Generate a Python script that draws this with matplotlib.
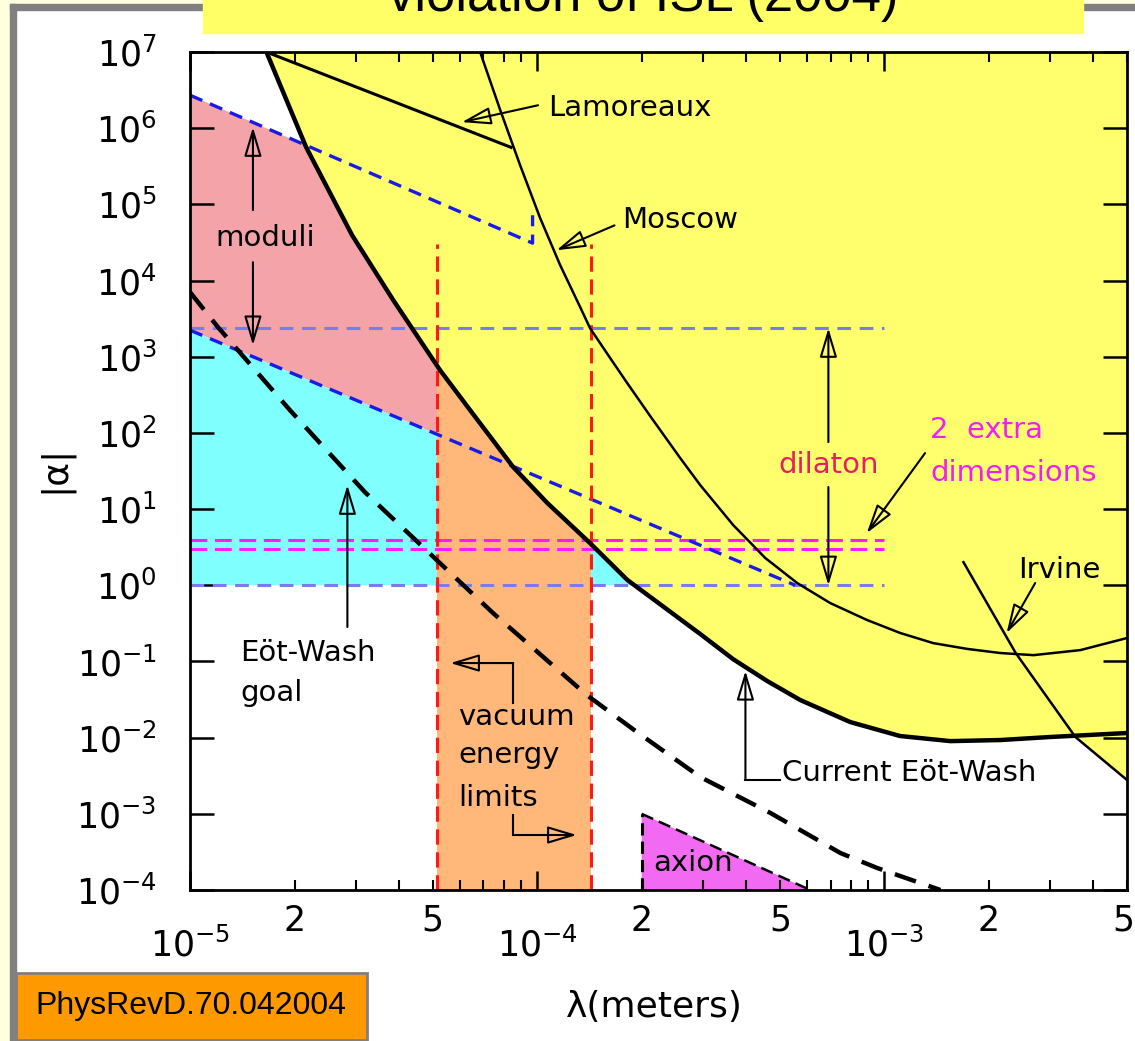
import numpy as np
import matplotlib.pyplot as plt
from matplotlib.patches import Rectangle
from matplotlib.ticker import FixedLocator, FuncFormatter, NullLocator

plt.rcParams['font.family'] = 'DejaVu Sans'
plt.rcParams['mathtext.fontset'] = 'dejavusans'

# current Eot-Wash limit (thick solid)
ew_lam = [1.66e-5, 2.16e-5, 2.93e-5, 3.85e-5, 5.25e-5, 6.41e-5, 8.53e-5, 1.07e-4, 1.42e-4,
          1.82e-4, 2.12e-4, 2.95e-4, 3.67e-4, 4.6e-4, 5.73e-4, 7.98e-4, 1.11e-3, 1.55e-3,
          2.16e-3, 3.01e-3, 5.0e-3]
ew_alpha = [1e7, 5.64e5, 3.94e4, 5.53e3, 667, 199, 35.6, 12.0, 3.58,
            1.17, 0.70, 0.229, 0.107, 0.0553, 0.0311, 0.016, 0.0105, 0.0090,
            0.0093, 0.0102, 0.0115]

# Moscow
mos_lam = [6.85e-5, 7.83e-5, 8.93e-5, 1.02e-4, 1.165e-4, 1.33e-4, 1.42e-4, 1.623e-4, 1.817e-4,
           2.117e-4, 2.583e-4, 2.95e-4, 3.67e-4, 4.54e-4, 5.61e-4, 6.99e-4, 8.93e-4, 1.112e-3,
           1.384e-3, 1.735e-3, 2.16e-3, 2.69e-3, 3.67e-3, 5.0e-3]
mos_alpha = [1e7, 1.72e6, 3.27e5, 6.6e4, 1.59e4, 4.48e3, 2.37e3, 960, 451,
             166, 46.7, 20.6, 6.17, 2.28, 1.07, 0.583, 0.349, 0.236,
             0.174, 0.146, 0.129, 0.121, 0.141, 0.203]

# Lamoreaux
lam_lam = [1.66e-5, 8.41e-5]
lam_alpha = [1e7, 5.6e5]

# Irvine
irv_lam = [1.69e-3, 2.39e-3, 3.55e-3, 5.0e-3]
irv_alpha = [2.01, 0.129, 0.0102, 2.78e-3]

# Eot-Wash goal (thick dashed)
goal_lam = [1e-5, 1.204e-5, 1.94e-5, 3.19e-5, 5.25e-5, 7.47e-5, 1.39e-4, 1.94e-4,
            2.95e-4, 4.69e-4, 7.47e-4, 9.55e-4, 1.45e-3]
goal_alpha = [7.05e3, 2.44e3, 199, 16.7, 1.95, 0.43, 0.0362, 0.0118,
              3.04e-3, 1.03e-3, 3.06e-4, 1.94e-4, 1e-4]

# moduli band edges (blue dashed)
mod_up_lam = [1e-5, 9.7e-5, 9.7e-5]
mod_up_alpha = [2.71e6, 3.1e4, 7.2e4]
mod_lo_lam = [1e-5, 5.54e-4]
mod_lo_alpha = [2.23e3, 1.0]

# dilaton range and 2 extra dimensions
dil_alpha = [2.37e3, 1.0]
xdim_alpha = [3.9, 3.0]
hline_lam = [1e-5, 1e-3]

# vacuum energy window
vac_lam = [5.15e-5, 1.43e-4]
vac_top = 3e4

# axion
ax_lam = [2.0e-4, 2.0e-4, 6.12e-4]
ax_alpha = [1e-4, 1e-3, 1e-4]

W, H = 1135, 1041
fig = plt.figure(figsize=(W / 100, H / 100), dpi=100)

# slide frame
fig.add_artist(Rectangle((0, 0), 10 / W, 1, transform=fig.transFigure, color='#FFFFE0', zorder=0))
fig.add_artist(Rectangle((0, 1 - 4 / H), 1, 4 / H, transform=fig.transFigure, color='#FFFFE0', zorder=0))
fig.add_artist(Rectangle((10 / W, 0), 6 / W, 1 - 4 / H, transform=fig.transFigure, color='#808080', zorder=0))
fig.add_artist(Rectangle((10 / W, 1 - 10 / H), 1 - 10 / W, 6 / H, transform=fig.transFigure, color='#808080', zorder=0))
fig.add_artist(Rectangle((203 / W, 1 - 33 / H), 880 / W, 33 / H, transform=fig.transFigure, color='#FFFF66', zorder=1))
fig.text(643 / W, 1 - 11 / H, 'violation of ISL (2004)', ha='center', va='baseline',
         fontsize=38, family='Liberation Sans', zorder=2)
fig.add_artist(Rectangle((16 / W, 1 - 1040 / H), 351 / W, 67 / H, transform=fig.transFigure,
                         fc='#FF9900', ec='#808080', lw=2, zorder=1))
fig.text(191 / W, 1 - 1006 / H, 'PhysRevD.70.042004', ha='center', va='center',
         fontsize=23, family='Liberation Sans', zorder=2)

ax = fig.add_axes([190 / W, 1 - 890 / H, 937 / W, 838 / H])
ax.set_xscale('log')
ax.set_yscale('log')
ax.set_xlim(1e-5, 5e-3)
ax.set_ylim(1e-4, 1e7)

# shaded regions, back to front
ax.fill(mod_up_lam[:2] + mod_lo_lam[::-1], mod_up_alpha[:2] + mod_lo_alpha[::-1],
        color='#F4A4A8', lw=0, zorder=1)
ax.fill(mod_lo_lam + [mod_lo_lam[0]], mod_lo_alpha + [dil_alpha[1]],
        color='#80FFFF', lw=0, zorder=1)
ax.fill_between(vac_lam, 1e-4, 1e7, color='#FFB87A', lw=0, zorder=1)
ax.fill_between(ew_lam, ew_alpha, 1e7, color='#FFFF6E', lw=0, zorder=1)
ax.fill(irv_lam + [irv_lam[-1]], irv_alpha + [irv_alpha[0]], color='#FFFF6E', lw=0, zorder=1)
ax.fill(ax_lam, ax_alpha, color='#F26AF2', lw=0, zorder=1)

# dashed reference lines
for a in dil_alpha:
    ax.plot(hline_lam, [a, a], color='#7B7BEB', lw=2.2, dashes=(4.5, 2.8), zorder=3)
for a in xdim_alpha:
    ax.plot(hline_lam, [a, a], color='#FF1AFF', lw=2.2, dashes=(5.5, 2.5), zorder=3)
ax.plot(mod_up_lam, mod_up_alpha, color='#1A1AE6', lw=2.4, dashes=(4, 2.5), zorder=3)
ax.plot(mod_lo_lam, mod_lo_alpha, color='#1A1AE6', lw=2.4, dashes=(4, 2.5), zorder=3)
for x in vac_lam:
    ax.plot([x, x], [1e-4, vac_top], color='#FF1A1A', lw=2.2, dashes=(5, 2.5), zorder=3)
ax.plot(ax_lam[:2], ax_alpha[:2], color='k', lw=2.2, dashes=(4, 2), zorder=3)
ax.plot(ax_lam[1:], ax_alpha[1:], color='k', lw=1.8, dashes=(5, 2.5), zorder=3)

# experimental limits
ax.plot(ew_lam, ew_alpha, color='k', lw=3.2, zorder=4)
ax.plot(mos_lam, mos_alpha, color='k', lw=1.8, zorder=4)
ax.plot(lam_lam, lam_alpha, color='k', lw=2.2, zorder=4)
ax.plot(irv_lam, irv_alpha, color='k', lw=1.8, zorder=4)
ax.plot(goal_lam, goal_alpha, color='k', lw=3.2, dashes=(5, 3), zorder=4)

# labels and arrows
fs = 21
head = dict(arrowstyle='-|>,head_length=0.6,head_width=0.18', mutation_scale=30,
            fc='none', ec='k', lw=1.5, shrinkA=0, shrinkB=0)


def arrow(tail, tip):
    ax.annotate('', xy=tip, xytext=tail, arrowprops=head, zorder=6)


ax.text(1.076e-4, 1.83e6, 'Lamoreaux', fontsize=fs, va='center', zorder=6)
arrow((1.006e-4, 2.0e6), (6.07e-5, 1.2e6))
ax.text(1.758e-4, 6.2e4, 'Moscow', fontsize=fs, va='center', zorder=6)
arrow((1.67e-4, 5.3e4), (1.137e-4, 2.5e4))

ax.text(1.645e-5, 3.6e4, 'moduli', fontsize=fs, ha='center', va='center', zorder=6)
arrow((1.518e-5, 8.4e4), (1.518e-5, 1.03e6))
arrow((1.518e-5, 1.74e4), (1.518e-5, 1.42e3))

ax.text(6.9e-4, 37.8, 'dilaton', fontsize=fs, ha='center', va='center', color='#E6205F', zorder=6)
arrow((6.9e-4, 75.7), (6.9e-4, dil_alpha[0]))
arrow((6.9e-4, 19.5), (6.9e-4, dil_alpha[1]))

ax.text(1.357e-3, 109, '2  extra', fontsize=fs, va='center', color='#F01EF0', zorder=6)
ax.text(1.357e-3, 29.6, 'dimensions', fontsize=fs, va='center', color='#F01EF0', zorder=6)
arrow((1.31e-3, 54.3), (8.9e-4, 4.84))

ax.text(2.43e-3, 1.58, 'Irvine', fontsize=fs, va='center', zorder=6)
arrow((2.72e-3, 1.07), (2.25e-3, 0.236))

ax.text(1.394e-5, 0.129, 'Eöt-Wash', fontsize=fs, va='center', zorder=6)
ax.text(1.394e-5, 0.0385, 'goal', fontsize=fs, va='center', zorder=6)
arrow((2.84e-5, 0.283), (2.84e-5, 20.6))

ax.text(5.92e-5, 0.0186, 'vacuum', fontsize=fs, va='center', zorder=6)
ax.text(5.92e-5, 5.9e-3, 'energy', fontsize=fs, va='center', zorder=6)
ax.text(5.92e-5, 1.61e-3, 'limits', fontsize=fs, va='center', zorder=6)
ax.plot([8.53e-5, 8.53e-5], [0.0284, 0.0953], color='k', lw=1.5, zorder=6)
arrow((8.53e-5, 0.0953), (5.62e-5, 0.0953))
ax.plot([8.53e-5, 8.53e-5], [9.6e-4, 5.27e-4], color='k', lw=1.5, zorder=6)
arrow((8.53e-5, 5.27e-4), (1.30e-4, 5.27e-4))

ax.text(5.08e-4, 3.43e-3, 'Current Eöt-Wash', fontsize=fs, va='center', zorder=6)
ax.plot([5.02e-4, 3.98e-4], [2.78e-3, 2.78e-3], color='k', lw=1.5, zorder=6)
arrow((3.98e-4, 2.78e-3), (3.98e-4, 0.075))

ax.text(2.16e-4, 2.26e-4, 'axion', fontsize=fs, va='center', zorder=6)

# axes styling
ax.xaxis.set_major_locator(FixedLocator([1e-5, 1e-4, 1e-3]))
minor = [m * 10.0 ** e for e in (-5, -4, -3) for m in range(2, 10) if m * 10.0 ** e <= 5.0001e-3]
ax.xaxis.set_minor_locator(FixedLocator(minor))
ax.yaxis.set_major_locator(FixedLocator([10.0 ** e for e in range(-4, 8)]))
ax.yaxis.set_minor_locator(NullLocator())

decade = FuncFormatter(lambda v, p: r'$10^{%d}$' % round(np.log10(v)))


def mantissa_label(v, p):
    # the 5 at the right edge is placed by hand below so it stays inside the figure
    if v > 4e-3:
        return ''
    m = round(v / 10 ** np.floor(np.log10(v) + 1e-9))
    return str(m) if m in (2, 5) else ''


ax.xaxis.set_major_formatter(decade)
ax.yaxis.set_major_formatter(decade)
ax.xaxis.set_minor_formatter(FuncFormatter(mantissa_label))

ax.tick_params(axis='y', which='major', direction='in', length=17, width=1.8,
               left=True, right=True, pad=24, labelsize=25)
ax.tick_params(axis='x', which='major', direction='in', length=14, width=1.8,
               top=True, bottom=True, pad=27, labelsize=25)
ax.tick_params(axis='x', which='minor', direction='in', length=7, width=1.5,
               top=True, bottom=True, pad=10, labelsize=25)
ax.annotate('5', xy=(5e-3, 1e-4), xytext=(-3, -10), textcoords='offset points',
            ha='center', va='top', fontsize=25, annotation_clip=False)
for s in ax.spines.values():
    s.set_linewidth(2)
    s.set_zorder(7)

ax.set_xlabel('λ(meters)', fontsize=26)
ax.xaxis.set_label_coords(0.496, -0.119)
ax.set_ylabel('|α|', fontsize=26)
ax.yaxis.set_label_coords(-0.126, 0.502)

plt.savefig('out.png', dpi=100)
